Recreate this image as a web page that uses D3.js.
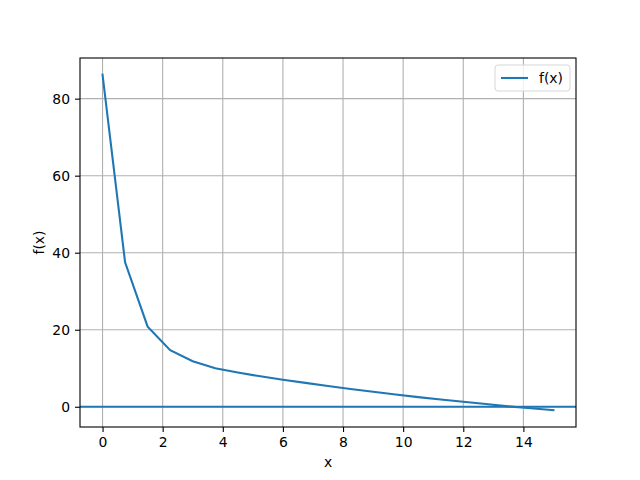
<!DOCTYPE html>
<html>
<head>
<meta charset="utf-8">
<script src="https://cdn.jsdelivr.net/npm/d3@7"></script>
<style>
  body { margin: 0; background: #fff; }
  text { font-family: "DejaVu Sans", sans-serif; }
</style>
</head>
<body>
<div id="chart"></div>
<script>
// values
var xs = [0, 0.75, 1.5, 2.25, 3, 3.75, 4.5, 5.25, 6, 6.75, 7.5, 8.25, 9, 9.75, 10.5, 11.25, 12, 12.75, 13.5, 14.25, 15];
var ys = [86.2, 37.5, 20.8, 14.7, 11.8, 10.0, 8.9, 7.9, 7.0, 6.2, 5.4, 4.6, 3.9, 3.2, 2.5, 1.9, 1.3, 0.7, 0.1, -0.4, -0.9];
var xTicks = [0, 2, 4, 6, 8, 10, 12, 14];
var yTicks = [0, 20, 40, 60, 80];
var seriesName = "f(x)";
var hLineAt = 0;

var width = 640, height = 480;
var margin = {top: 58, right: 64, bottom: 53, left: 80};
var blue = "#1f77b4";

var svg = d3.select("#chart").append("svg")
    .attr("width", width)
    .attr("height", height);

var data = xs.map(function (x, i) { return {x: x, y: ys[i]}; });

var xmin = d3.min(xs), xmax = d3.max(xs);
var ymin = d3.min(ys), ymax = d3.max(ys);
var padX = (xmax - xmin) * 0.05, padY = (ymax - ymin) * 0.05;

var x = d3.scaleLinear()
    .domain([xmin - padX, xmax + padX])
    .range([margin.left, width - margin.right]);

var y = d3.scaleLinear()
    .domain([ymin - padY, ymax + padY])
    .range([height - margin.bottom, margin.top]);

var plotH = height - margin.top - margin.bottom;
var plotW = width - margin.left - margin.right;

// grid
var grid = svg.append("g");
grid.selectAll(".gx").data(xTicks).enter().append("line")
    .attr("x1", function (d) { return x(d); })
    .attr("x2", function (d) { return x(d); })
    .attr("y1", margin.top).attr("y2", height - margin.bottom)
    .attr("stroke", "#b0b0b0").attr("stroke-width", 1.1);
grid.selectAll(".gy").data(yTicks).enter().append("line")
    .attr("y1", function (d) { return y(d); })
    .attr("y2", function (d) { return y(d); })
    .attr("x1", margin.left).attr("x2", width - margin.right)
    .attr("stroke", "#b0b0b0").attr("stroke-width", 1.1);

// horizontal line
svg.append("line")
    .attr("x1", margin.left).attr("x2", width - margin.right)
    .attr("y1", y(hLineAt)).attr("y2", y(hLineAt))
    .attr("stroke", blue).attr("stroke-width", 2.1);

// the curve
var line = d3.line()
    .x(function (d) { return x(d.x); })
    .y(function (d) { return y(d.y); });

svg.append("path")
    .datum(data)
    .attr("d", line)
    .attr("fill", "none")
    .attr("stroke", blue)
    .attr("stroke-width", 2.1)
    .attr("stroke-linecap", "square");

// axes
var xAxis = d3.axisBottom(x).tickValues(xTicks).tickSize(5).tickPadding(5).tickFormat(d3.format("d"));
var yAxis = d3.axisLeft(y).tickValues(yTicks).tickSize(5).tickPadding(5).tickFormat(d3.format("d"));

var gX = svg.append("g")
    .attr("transform", "translate(0," + (height - margin.bottom) + ")")
    .call(xAxis);
var gY = svg.append("g")
    .attr("transform", "translate(" + margin.left + ",0)")
    .call(yAxis);

[gX, gY].forEach(function (g) {
    g.select(".domain").remove();
    g.selectAll(".tick line").attr("stroke", "#000").attr("stroke-width", 1.1);
    g.selectAll(".tick text").attr("fill", "#000").style("font-size", "13.9px")
        .style("font-family", "DejaVu Sans");
});

// frame
svg.append("rect")
    .attr("x", margin.left).attr("y", margin.top)
    .attr("width", plotW).attr("height", plotH)
    .attr("fill", "none").attr("stroke", "#000").attr("stroke-width", 1.1);

// labels
svg.append("text")
    .attr("x", margin.left + plotW / 2).attr("y", 467)
    .attr("text-anchor", "middle")
    .style("font-size", "13.9px")
    .text("x");

svg.append("text")
    .attr("transform", "translate(44," + (margin.top + plotH / 2) + ") rotate(-90)")
    .attr("text-anchor", "middle")
    .style("font-size", "13.9px")
    .text("f(x)");

// legend
var lg = svg.append("g").attr("transform", "translate(495,65)");
lg.append("rect")
    .attr("width", 75).attr("height", 26).attr("rx", 3)
    .attr("fill", "#fff").attr("fill-opacity", 0.8)
    .attr("stroke", "#d6d6d6").attr("stroke-width", 1);
lg.append("line")
    .attr("x1", 6).attr("x2", 33).attr("y1", 13).attr("y2", 13)
    .attr("stroke", blue).attr("stroke-width", 2.1);
lg.append("text")
    .attr("x", 44).attr("y", 18)
    .style("font-size", "13.9px")
    .text(seriesName);
</script>
</body>
</html>
